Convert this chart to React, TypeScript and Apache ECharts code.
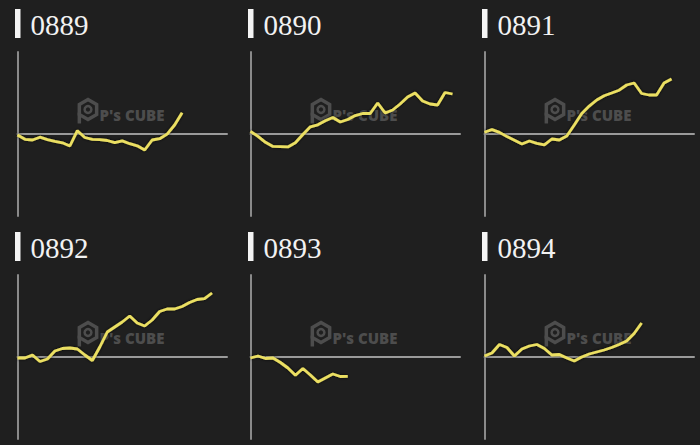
import React, { useEffect, useRef } from "react";
import * as echarts from "echarts";

const titles = ["0889", "0890", "0891", "0892", "0893", "0894"];
const s0889 = [-1, -5.3, -6, -3.2, -5.6, -7.3, -8.8, -12, 3.3, -3.5, -5.4, -5.6, -6.5, -8.7, -6.9, -9.7, -11.8, -16, -6, -4.7, -0.1, 9, 21.3];
const s0890 = [2.7, -2.3, -8.3, -12.4, -12.6, -12.9, -8.8, -0.5, 7.2, 9.2, 13.2, 16.5, 12, 14.5, 18.4, 20.5, 20.5, 31, 21, 24, 30, 37, 41, 33, 30, 29, 41.5, 40];
const s0891 = [1.7, 4.4, 1.6, -2.6, -6.2, -10, -7, -9.4, -10.9, -5, -6, -2, 9, 20.6, 27.9, 34, 38.3, 41, 43.8, 49, 51, 40.5, 39, 39, 51, 55];
const s0892 = [-1, -1, 2, -4.5, -2, 6, 8.5, 9, 8, 2, -3.5, 10, 25, 30, 35, 41, 34, 31, 37, 45.5, 48, 48, 50.5, 54.5, 57.5, 58.3, 64];
const s0893 = [-1, 1, -1.5, -1, -5.5, -11, -18.3, -11.5, -18, -25, -21, -17, -19.5, -19.3];
const s0894 = [1, 4, 12.5, 9.5, 1, 8, 11, 12.5, 8.5, 2, 2.5, -1, -4, 0, 3, 5, 7, 9.5, 12.5, 16, 23.5, 34];
const allSeries = [s0889, s0890, s0891, s0892, s0893, s0894];
const xMax = 28;
const yMin = -82;
const yMax = 82;

const colLefts = [17.5, 250.5, 484.5];
const rowTops = [52, 275];
const gridW = 209.5;
const gridH = 164;

export default function App() {
  const ref = useRef<HTMLDivElement>(null);
  useEffect(() => {
    if (!ref.current) return;
    const chart = echarts.init(ref.current, undefined, { renderer: "svg" });
    const grids: any[] = [];
    const xAxes: any[] = [];
    const yAxes: any[] = [];
    const series: any[] = [];
    const graphics: any[] = [];
    const wmColor = "#4d4d4d";
    allSeries.forEach((vals, k) => {
      const c = k % 3;
      const r = Math.floor(k / 3);
      const left = colLefts[c];
      const top = rowTops[r];
      grids.push({ left, top, width: gridW, height: gridH });
      xAxes.push({
        type: "value", gridIndex: k, min: 0, max: xMax,
        axisLine: { show: true, onZero: true, lineStyle: { color: "#9a9a9a", width: 2 } },
        axisTick: { show: false }, axisLabel: { show: false }, splitLine: { show: false },
      });
      yAxes.push({
        type: "value", gridIndex: k, min: yMin, max: yMax,
        axisLine: { show: true, onZero: false, lineStyle: { color: "#8a8a8a", width: 2 } },
        axisTick: { show: false }, axisLabel: { show: false }, splitLine: { show: false },
      });
      series.push({
        type: "line", xAxisIndex: k, yAxisIndex: k, showSymbol: false, symbol: "none",
        data: vals.map((v, i) => [i, v]), z: 5,
        lineStyle: { color: "#ebdf62", width: 2.8, shadowColor: "rgba(0,0,0,0.8)", shadowBlur: 3 },
      });
      // titles
      const ty = r === 0 ? 9 : 232;
      graphics.push({ type: "rect", shape: { x: left - 2.5, y: ty, width: 5.5, height: 29 }, style: { fill: "#f4f4f4" } });
      graphics.push({
        type: "text", x: left + 13, y: ty + 16,
        style: { text: titles[k], fill: "#f2f2f2", font: "29px 'Liberation Serif', serif", verticalAlign: "middle", align: "left" },
      });
      // watermark
      const gx = left + 61;
      const gy = top + 47;
      const R = 10;
      const cx = 9.5, cy = 10.5;
      const pts: number[][] = [];
      for (let a = 0; a < 6; a++) {
        const ang = (Math.PI / 3) * a - Math.PI / 2;
        pts.push([cx + R * Math.cos(ang), cy + R * Math.sin(ang)]);
      }
      graphics.push({
        type: "group", x: gx, y: gy, z: 1,
        children: [
          { type: "polygon", shape: { points: pts }, style: { fill: "none", stroke: wmColor, lineWidth: 3.5 } },
          { type: "circle", shape: { cx, cy, r: 3.4 }, style: { fill: "none", stroke: wmColor, lineWidth: 2.5 } },
          { type: "rect", shape: { x: cx - R * 0.866 - 1.75, y: cy + 3, width: 3.5, height: 11 }, style: { fill: wmColor } },
          { type: "text", x: 21, y: 15.5, style: { text: "P's CUBE", fill: wmColor, font: "800 15px 'Open Sans', sans-serif", verticalAlign: "middle", align: "left" } },
        ],
      });
    });
    chart.setOption({
      animation: false,
      backgroundColor: "#1f1f1f",
      grid: grids,
      xAxis: xAxes,
      yAxis: yAxes,
      series,
      graphic: graphics,
    });
    return () => chart.dispose();
  }, []);
  return <div ref={ref} style={{ position: "fixed", left: 0, top: 0, width: 700, height: 445 }} />;
}
